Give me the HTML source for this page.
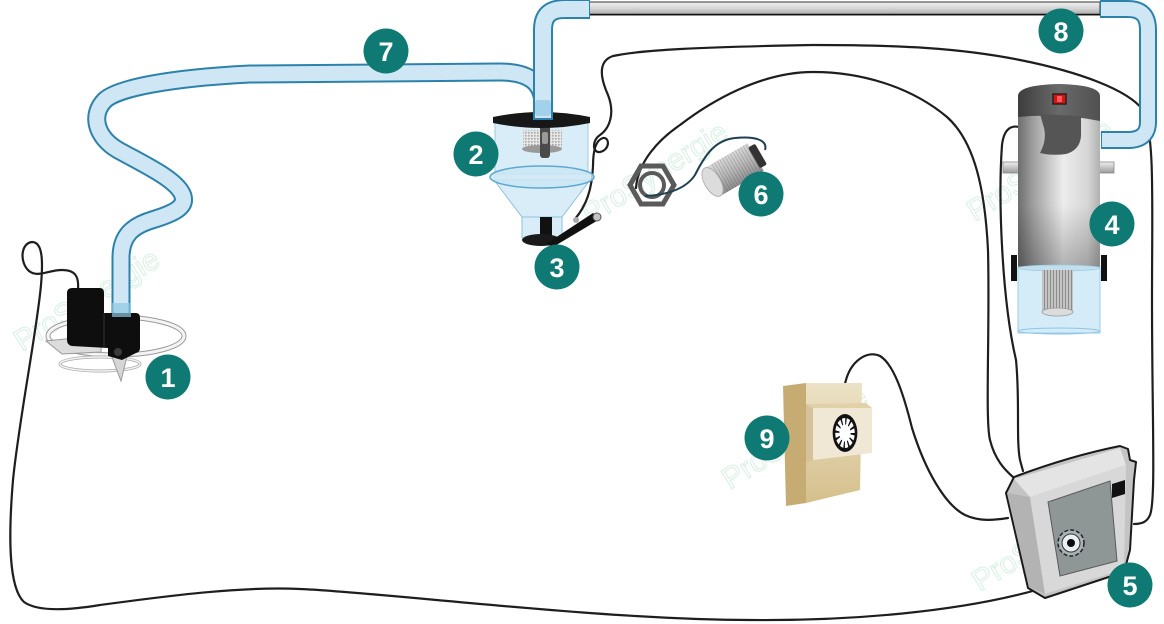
<!DOCTYPE html>
<html><head><meta charset="utf-8"><style>
html,body{margin:0;padding:0;background:#fff;}
svg{display:block;}
.lbl{font-family:"Liberation Sans",sans-serif;font-weight:bold;font-size:27px;fill:#fff;text-anchor:middle;}
.wm{font-family:"Liberation Sans",sans-serif;font-size:30px;fill:none;stroke:#d8efe2;stroke-width:1;}
.w{fill:none;stroke:#1e1e1e;stroke-width:2.2;stroke-linecap:round;stroke-linejoin:round;}
</style></head><body>
<svg width="1164" height="624" viewBox="0 0 1164 624" xmlns="http://www.w3.org/2000/svg">
<defs>
<linearGradient id="pipe" x1="0" y1="0" x2="0" y2="1"><stop offset="0" stop-color="#f2f2f2"/><stop offset="0.5" stop-color="#d4d4d4"/><stop offset="1" stop-color="#a8a8a8"/></linearGradient>
<linearGradient id="vbody" x1="0" y1="0" x2="1" y2="0"><stop offset="0" stop-color="#6e6e6e"/><stop offset="0.2" stop-color="#a2a2a2"/><stop offset="0.55" stop-color="#ececec"/><stop offset="0.85" stop-color="#d6d6d6"/><stop offset="1" stop-color="#b0b0b0"/></linearGradient>
<linearGradient id="vshade" x1="0" y1="0" x2="0" y2="1"><stop offset="0" stop-color="#000" stop-opacity="0"/><stop offset="0.6" stop-color="#000" stop-opacity="0"/><stop offset="1" stop-color="#000" stop-opacity="0.25"/></linearGradient>
<linearGradient id="cap" x1="0" y1="0" x2="1" y2="0"><stop offset="0" stop-color="#3d3d3d"/><stop offset="0.5" stop-color="#6a6a6a"/><stop offset="1" stop-color="#505050"/></linearGradient>
<linearGradient id="tan" x1="0" y1="0" x2="0" y2="1"><stop offset="0" stop-color="#ece2c6"/><stop offset="1" stop-color="#d5bf8c"/></linearGradient>
<linearGradient id="sens" x1="0" y1="0" x2="0" y2="1"><stop offset="0" stop-color="#dadada"/><stop offset="0.5" stop-color="#b8b8b8"/><stop offset="1" stop-color="#8e8e8e"/></linearGradient>
<linearGradient id="hand" x1="0" y1="0" x2="0" y2="1"><stop offset="0" stop-color="#f0f0f0"/><stop offset="1" stop-color="#9a9a9a"/></linearGradient>
<pattern id="mesh" width="3" height="3" patternUnits="userSpaceOnUse"><rect width="3" height="3" fill="#e6e6e6"/><rect width="1.6" height="1.6" fill="#a8a8a8"/></pattern>
<pattern id="rib" width="3" height="4" patternUnits="userSpaceOnUse"><rect width="3" height="4" fill="#c4c4c4"/><rect width="1" height="4" fill="#8c8c8c"/></pattern>
<pattern id="thread" width="3" height="40" patternUnits="userSpaceOnUse"><rect width="1" height="40" fill="#000" fill-opacity="0.15"/></pattern>
</defs>

<!-- watermarks -->
<text class="wm" transform="translate(22,352) rotate(-32)">ProSynergie</text>
<text class="wm" transform="translate(590,225) rotate(-32)">ProSynergie</text>
<text class="wm" transform="translate(975,222) rotate(-32)">ProSynergie</text>
<text class="wm" transform="translate(730,490) rotate(-32)">ProSynergie</text>
<text class="wm" transform="translate(980,592) rotate(-32)">ProSynergie</text>

<!-- wires -->
<path class="w" d="M78,289 C79,276 75,270 62,270 C48,270 38,278 29,271 C19,262 21,243 32,242 C43,242 43,262 41,285 C37,330 19,420 13,480 C8,540 9,588 24,602 C38,612 70,610 100,605 C160,597 240,586 300,589 C380,592 600,620 750,620 C850,621 960,612 1040,589"/>
<path class="w" d="M575,219 C586,206 592,190 593,166 C593,150 596,140 603,138 C610,137 610,150 600,152 C592,153 592,140 600,135 C610,128 615,113 608,95 C600,77 598,61 613,56 C640,50 700,47 813,45 C900,45 960,48 1020,60 C1080,72 1128,90 1143,110 C1155,135 1152,200 1152,300 C1152,420 1156,500 1150,515 C1147,522 1142,524 1134,524"/>
<path class="w" d="M636,188 C638,162 658,140 680,125 C710,102 760,72 813,72 C860,72 910,86 947,117 C975,142 985,190 988,250 C990,330 985,420 990,440 C995,460 1005,470 1013,477"/>
<path class="w" d="M1022,128 C1012,124 1004,128 1002,145 C998,200 1002,300 1016,360 C1020,400 1016,440 1020,460 L1023,471"/>
<path class="w" d="M845,384 C850,360 868,350 880,356 C895,365 905,400 912,428 C925,470 945,505 965,515 C980,522 995,520 1008,518"/>

<!-- grey pipe -->
<rect x="588" y="2" width="512" height="13" fill="url(#pipe)" stroke="#333" stroke-width="1"/>
<line x1="588" y1="14.5" x2="1100" y2="14.5" stroke="#111" stroke-width="1.6"/>

<!-- tube 7 -->
<path d="M121,318 L121,258 C121,236 132,226 152,220 C175,213 186,207 183,196 C178,180 145,165 118,150 C96,137 90,115 105,100 C118,88 170,78 250,74 L500,72 C528,72 543,82 543,105" fill="none" stroke="#2d82ab" stroke-width="19"/>
<path d="M121,318 L121,258 C121,236 132,226 152,220 C175,213 186,207 183,196 C178,180 145,165 118,150 C96,137 90,115 105,100 C118,88 170,78 250,74 L500,72 C528,72 543,82 543,105" fill="none" stroke="#cfe7f4" stroke-width="15"/>

<!-- pump & float -->
<ellipse cx="116" cy="336" rx="68" ry="19" fill="none" stroke="#9a9a9a" stroke-width="5"/>
<ellipse cx="116" cy="336" rx="68" ry="19" fill="none" stroke="#f4f4f4" stroke-width="3"/>
<ellipse cx="100" cy="364" rx="40" ry="7" fill="none" stroke="#aaa" stroke-width="3"/>
<ellipse cx="100" cy="364" rx="40" ry="7" fill="none" stroke="#f2f2f2" stroke-width="1.5"/>
<polygon points="46,341 102,335 101,352 62,354" fill="#dcdcdc" stroke="#999" stroke-width="1"/>
<polygon points="110,352 128,352 121,381" fill="#d6d6d6" stroke="#999" stroke-width="1"/>
<path d="M67,293 Q67,288 72,288 L100,288 Q104,288 104,293 L104,313 L136,313 Q140,313 140,318 L140,348 Q140,352 136,353 L122,360 L108,356 L108,348 L72,346 Q67,345 67,340 Z" fill="#0e0e0e"/>
<line x1="104" y1="313" x2="104" y2="348" stroke="#333" stroke-width="1"/>
<circle cx="118" cy="352" r="4" fill="#3a3a3a"/>
<rect x="112" y="303" width="19" height="14" fill="#8fc7e6" fill-opacity="0.7"/>

<!-- hopper -->
<path d="M494,180 L522,217 L562,217 L590,180 Z" fill="#d8edf8" stroke="#8fc3de" stroke-width="1"/>
<rect x="495" y="122" width="93" height="52" fill="#d8edf8" stroke="#9ccbe2" stroke-width="1"/>
<rect x="523" y="130" width="39" height="18" fill="url(#mesh)"/>
<ellipse cx="542" cy="149" rx="20" ry="4" fill="#9a9a9a"/>
<rect x="540" y="121" width="10" height="37" rx="3" fill="#4a4a4a"/>
<rect x="542" y="132" width="6" height="12" rx="2" fill="#999"/>
<ellipse cx="542" cy="177" rx="52" ry="11" fill="#cbe6f5" fill-opacity="0.85" stroke="#5fa8d0" stroke-width="1.5"/>
<rect x="522" y="217" width="40" height="21" fill="#d8edf8" stroke="#8fc3de" stroke-width="1"/>
<rect x="540" y="217" width="12" height="22" fill="#111"/>
<ellipse cx="541" cy="240" rx="19" ry="6" fill="#1a1a1a"/>
<path d="M546,244 L593,213 L600,219 L553,247 Z" fill="#111"/>
<circle cx="597" cy="217" r="4" fill="#c4c4c4" stroke="#555" stroke-width="1"/>
<circle cx="576" cy="220" r="3" fill="#aaa"/>
<path d="M493,117 Q541,107 590,117 L590,123 Q541,133 493,123 Z" fill="#171717"/>

<!-- hopper vertical tube -->
<path d="M543,120 L543,30 C543,15 550,9 565,9 L590,9" fill="none" stroke="#2d82ab" stroke-width="20"/>
<path d="M543,118 L543,30 C543,15 550,9 565,9 L589,9" fill="none" stroke="#cfe7f4" stroke-width="16"/>
<rect x="535" y="100" width="16" height="16" rx="3" fill="#8fc7e6" fill-opacity="0.7"/>

<!-- right tube -->
<path d="M1100,9 L1128,9 C1142,9 1148,16 1148,30 L1148,122 C1148,135 1140,140 1128,140 L1101,140" fill="none" stroke="#2d82ab" stroke-width="18"/>
<path d="M1101,9 L1128,9 C1142,9 1148,16 1148,30 L1148,122 C1148,135 1140,140 1128,140 L1102,140" fill="none" stroke="#cfe7f4" stroke-width="14"/>

<!-- vacuum unit -->
<rect x="1003" y="162" width="17" height="11" fill="url(#hand)" stroke="#888" stroke-width="0.8"/>
<rect x="1098" y="162" width="16" height="11" fill="url(#hand)" stroke="#888" stroke-width="0.8"/>
<rect x="1018" y="110" width="82" height="158" fill="url(#vbody)"/>
<rect x="1018" y="110" width="82" height="158" fill="url(#vshade)"/>
<path d="M1018,96 Q1018,85 1059,84 Q1100,85 1100,96 L1100,121 Q1060,113 1018,117 Z" fill="url(#cap)"/>
<path d="M1040,114 L1081,116 L1081,136 Q1080,150 1066,154 Q1052,156 1040,153 Q1047,140 1044,128 Z" fill="#555"/>
<rect x="1053" y="94" width="13" height="10" fill="#d11" stroke="#222" stroke-width="1.5"/>
<rect x="1057" y="96" width="5" height="6" fill="#ff5a5a"/>
<rect x="1011" y="255" width="6" height="26" fill="#111"/>
<rect x="1101" y="255" width="6" height="26" fill="#111"/>
<rect x="1018" y="267" width="82" height="66" fill="#d4ebf8" stroke="#9ccbe6" stroke-width="1"/>
<ellipse cx="1059" cy="268" rx="41" ry="3" fill="#c3dfee" stroke="#9ccbe6" stroke-width="0.8"/>
<rect x="1042" y="270" width="31" height="42" fill="url(#rib)"/>
<ellipse cx="1057.5" cy="312" rx="15.5" ry="4" fill="#dcdcdc" stroke="#999" stroke-width="0.8"/>
<ellipse cx="1059" cy="331" rx="41" ry="3" fill="none" stroke="#8fc6e6" stroke-width="1"/>

<!-- nut -->
<polygon points="674,185 663,204 641,204 630,185 641,166 663,166" fill="none" stroke="#5a5a5a" stroke-width="5"/>
<circle cx="652" cy="185" r="12" fill="none" stroke="#5a5a5a" stroke-width="4"/>
<!-- sensor cable -->
<path d="M645,196 C665,195 685,190 695,175 C705,155 715,140 735,138 C755,136 768,140 765,150" fill="none" stroke="#1f3f4f" stroke-width="2"/>
<!-- sensor -->
<g transform="translate(735,169) rotate(-30)">
<rect x="-26" y="-16" width="50" height="32" fill="url(#sens)"/>
<rect x="-20" y="-16" width="42" height="32" fill="url(#thread)"/>
<rect x="22" y="-12" width="8" height="24" rx="2" fill="#333"/>
<ellipse cx="-26" cy="0" rx="8" ry="16" fill="#dcdcdc" stroke="#aaa" stroke-width="0.8"/>
</g>

<!-- timer -->
<polygon points="783,386 806,383 806,503 786,506" fill="#c6ac72"/>
<polygon points="806,383 862,383 860,490 806,503" fill="url(#tan)"/>
<polygon points="806,404 866,403 872,408 813,408" fill="#e0d1a8"/>
<polygon points="806,404 813,408 813,460 806,463" fill="#d5c29a"/>
<polygon points="813,408 872,408 872,453 813,460" fill="#f0e8d4"/>
<g transform="translate(845,433) scale(0.65,1)">
<circle r="19" fill="#111"/>
<circle r="15" fill="#fff"/>
<circle r="12" fill="none" stroke="#111" stroke-width="7" stroke-dasharray="2 4.28"/>
<circle r="7" fill="#fff"/>
</g>

<!-- control box -->
<path d="M1006,493 L1014,477 Q1070,456 1120,446 L1128,449 L1130,460 L1136,462 L1134,480 L1130,550 L1124,572 L1045,598 L1028,588 Z" fill="#c4c4c4" stroke="#1a1a1a" stroke-width="2" stroke-linejoin="round"/>
<polygon points="1014,479 1120,448 1126,465 1030,497" fill="#e4e4e4"/>
<polygon points="1007,493 1030,497 1045,594 1029,587" fill="#b3b3b3"/>
<polygon points="1030,497 1126,465 1124,569 1045,594" fill="#d8d8d8"/>
<polygon points="1048,502 1110,481 1117,561 1060,576" fill="#8e9696" stroke="#5a5a5a" stroke-width="1"/>
<polygon points="1112,484 1125,480 1125,494 1112,498" fill="#111"/>
<circle cx="1071" cy="543" r="13" fill="#a9b2b4" stroke="#222" stroke-width="1.5" stroke-dasharray="4 2"/>
<circle cx="1071" cy="543" r="9" fill="#e8f0f2" stroke="#333" stroke-width="1"/>
<circle cx="1071" cy="543" r="4" fill="#0c0c0c"/>

<!-- labels -->
<g fill="#0f7a74">
<circle cx="168" cy="377" r="22.5"/>
<circle cx="476" cy="154" r="22.5"/>
<circle cx="557" cy="267" r="22.5"/>
<circle cx="1112" cy="224" r="22.5"/>
<circle cx="1130" cy="585" r="22.5"/>
<circle cx="761" cy="194" r="22.5"/>
<circle cx="386" cy="51" r="22.5"/>
<circle cx="1061" cy="31" r="22.5"/>
<circle cx="767" cy="438" r="22.5"/>
</g>
<text class="lbl" x="168" y="387">1</text>
<text class="lbl" x="476" y="164">2</text>
<text class="lbl" x="557" y="277">3</text>
<text class="lbl" x="1112" y="234">4</text>
<text class="lbl" x="1130" y="595">5</text>
<text class="lbl" x="761" y="204">6</text>
<text class="lbl" x="386" y="61">7</text>
<text class="lbl" x="1061" y="41">8</text>
<text class="lbl" x="767" y="448">9</text>
</svg>
</body></html>
